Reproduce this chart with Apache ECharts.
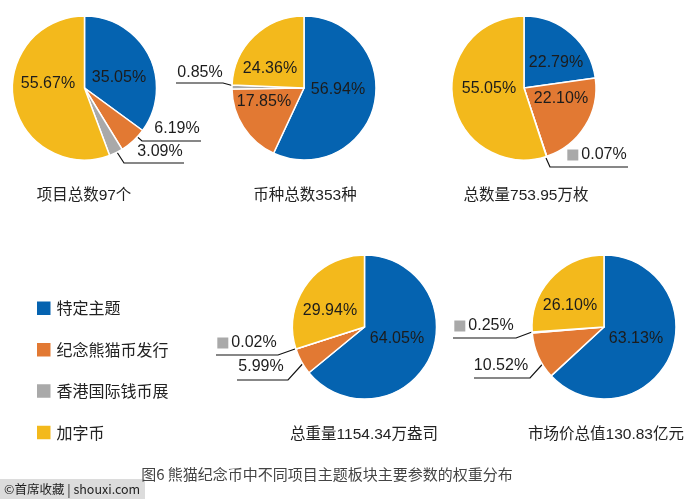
<!DOCTYPE html>
<html>
<head>
<meta charset="utf-8">
<style>
  html, body { margin: 0; padding: 0; background: #fff; }
  #main { width: 700px; height: 499px; }
</style>
<script src="https://cdn.jsdelivr.net/npm/echarts@6/dist/echarts.min.js"></script>
</head>
<body>
<div id="main"></div>
<script>
// Categories and colours
var categories = ['特定主题', '纪念熊猫币发行', '香港国际钱币展', '加字币'];
var colors = ['#0563b0', '#e27933', '#a9a9a9', '#f3b91c'];

// Share of each theme, one array per pie
var projectCount = [35.05, 6.19, 3.09, 55.67];
var varietyCount = [56.94, 17.85, 0.85, 24.36];
var totalQuantity = [22.79, 22.10, 0.07, 55.05];
var totalWeight = [64.05, 5.99, 0.02, 29.94];
var marketValue = [63.13, 10.52, 0.25, 26.10];

var pieValues = [projectCount, varietyCount, totalQuantity, totalWeight, marketValue];
var pieTitles = ['项目总数97个', '币种总数353种', '总数量753.95万枚', '总重量1154.34万盎司', '市场价总值130.83亿元'];
var caption = '图6 熊猫纪念币中不同项目主题板块主要参数的权重分布';
var watermark = '©首席收藏 | shouxi.com';

// Layout of the pies, labels and leader lines, in pixels
var pieCenters = [[84.5, 88], [304, 88], [524, 88], [364.5, 327], [604, 327]];
var titleCenters = [[84, 194], [305, 194], [526, 194], [364, 433], [606, 433]];
var labelCenters = [
  [[119, 78], [177, 129], [160, 152], [48, 84]],
  [[338, 90], [264, 102], [200, 73], [270, 69]],
  [[556, 63], [561, 99], [597, 155], [489, 89]],
  [[397, 339], [261, 367], [247, 343], [330, 311]],
  [[636, 339], [501, 366], [484, 326], [570, 306]]
];
// Leader lines by [pie][slice]; slices left out have none
var leaderLines = [
  { 1: [[127, 128], [142, 141], [201, 141]], 2: [[113, 146], [124, 163], [184, 163]] },
  { 2: [[234, 86], [223, 83], [176, 83]] },
  { 2: [[546, 158], [550, 167], [628, 167]] },
  { 1: [[307, 359], [288, 380], [237, 380]], 2: [[295, 349], [278, 355], [216, 355]] },
  { 1: [[549, 357], [530, 378], [474, 378]], 2: [[532, 332], [516, 338], [453, 338]] }
];
// Labels that carry a small grey key square
var squareLabels = [false, false, true, true, true];

var FONT = '"Liberation Sans", "Noto Sans CJK SC", sans-serif';
var TEXT = '#1c1c1c';

var chart = echarts.init(document.getElementById('main'));

var series = pieValues.map(function (values, p) {
  return {
    type: 'pie',
    center: pieCenters[p],
    radius: [0, 72],
    startAngle: 90,
    clockwise: true,
    silent: true,
    animation: false,
    avoidLabelOverlap: false,
    itemStyle: { borderColor: '#fff', borderWidth: 1.5 },
    data: values.map(function (v, i) {
      var hasLine = !!leaderLines[p][i];
      return {
        name: categories[i],
        value: v,
        itemStyle: { color: colors[i] },
        label: { position: hasLine ? 'outside' : 'inside' },
        labelLine: { show: hasLine }
      };
    }),
    label: {
      show: true,
      color: TEXT,
      fontFamily: FONT,
      fontSize: 16,
      formatter: function (params) {
        var text = params.value.toFixed(2) + '%';
        return (squareLabels[p] && params.dataIndex === 2) ? '{sq|}{v|' + text + '}' : text;
      },
      rich: {
        sq: { backgroundColor: colors[2], width: 11, height: 11 },
        v: { color: TEXT, fontFamily: FONT, fontSize: 16, padding: [0, 0, 0, 3] }
      }
    },
    labelLine: { smooth: false, lineStyle: { color: '#111', width: 1.2 } },
    labelLayout: function (params) {
      var c = labelCenters[p][params.dataIndex];
      var out = { x: c[0], y: c[1], align: 'center', verticalAlign: 'middle' };
      var line = leaderLines[p][params.dataIndex];
      if (line) {
        out.labelLinePoints = line;
      }
      return out;
    }
  };
});

var titles = pieTitles.map(function (t, i) {
  return {
    text: t,
    left: titleCenters[i][0],
    top: titleCenters[i][1] - 6,
    textAlign: 'center',
    padding: 0,
    textStyle: { fontFamily: FONT, fontSize: 15.5, fontWeight: 'normal', color: '#222' }
  };
});
titles.push({
  text: caption,
  left: 327,
  top: 467,
  textAlign: 'center',
  padding: 0,
  textStyle: { fontFamily: '"Noto Sans CJK SC", sans-serif', fontSize: 15, fontWeight: 'normal', color: '#444' }
});

chart.setOption({
  backgroundColor: '#fff',
  animation: false,
  title: titles,
  legend: {
    orient: 'vertical',
    left: 35,
    top: 299.5,
    padding: 0,
    icon: 'rect',
    itemWidth: 15.5,
    itemHeight: 15.5,
    itemGap: 23.9,
    selectedMode: false,
    data: categories,
    textStyle: { fontFamily: '"Noto Sans CJK SC", sans-serif', fontSize: 16, color: '#222', padding: 0 }
  },
  series: series,
  graphic: [
    { type: 'rect', shape: { x: 0, y: 479, width: 145, height: 20 }, style: { fill: '#dcdcdc' } },
    {
      type: 'text',
      x: 4,
      y: 489,
      style: {
        text: watermark,
        fill: '#222',
        font: '12.5px "Noto Sans CJK SC", "Liberation Sans", sans-serif',
        verticalAlign: 'middle'
      }
    }
  ]
});
</script>
</body>
</html>
